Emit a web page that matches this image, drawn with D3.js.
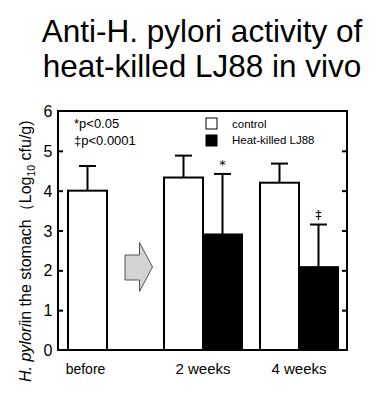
<!DOCTYPE html>
<html><head><meta charset="utf-8">
<script src="https://cdn.jsdelivr.net/npm/d3@7"></script>
<style>
html,body{margin:0;padding:0;background:#fff;}
svg{display:block;}
text{font-family:"Liberation Sans",Arial,sans-serif;fill:#000;}
</style></head>
<body>
<svg id="chart" width="384" height="397"></svg>
<script>
// ---- data ----
const groups = ["before", "2 weeks", "4 weeks"];
const seriesNames = ["control", "Heat-killed LJ88"];
const controlMeans = [4.0, 4.33, 4.2];
const controlSD = [0.62, 0.55, 0.48];
const ljMeans = [null, 2.9, 2.08];
const ljSD = [null, 1.52, 1.07];
const sigMarks = [null, "*", "\u2021"];
const yTicks = [0, 1, 2, 3, 4, 5, 6];
const notes = ["*p<0.05", "\u2021p<0.0001"];
const titleLines = ["Anti-H. pylori activity of", "heat-killed LJ88 in vivo"];

// ---- layout ----
const svg = d3.select("#chart");
const L = 58, R = 347, T = 111, B = 350;
const y = d3.scaleLinear().domain([0, 6]).range([B, T]);
const barW = 39;
const xc = d3.scaleOrdinal().domain(groups).range([87.5, 203, 299]);

// title
svg.append("g").selectAll("text").data(titleLines).join("text")
  .attr("x", 202).attr("y", (d, i) => 42 + i * 35)
  .attr("text-anchor", "middle").style("font-size", "31.5px").text(d => d);

// bars
const bars = [];
groups.forEach((g, i) => {
  const paired = ljMeans[i] != null;
  const cx = xc(g);
  bars.push({x: paired ? cx - barW : cx - barW / 2, v: controlMeans[i], sd: controlSD[i], fill: "#fff"});
  if (paired) bars.push({x: cx, v: ljMeans[i], sd: ljSD[i], fill: "#000", mark: sigMarks[i]});
});

const bg = svg.append("g");
bars.forEach(b => {
  const mx = b.x + barW / 2;
  bg.append("line").attr("x1", mx).attr("x2", mx).attr("y1", y(b.v)).attr("y2", y(b.v + b.sd))
    .attr("stroke", "#000").attr("stroke-width", 2);
  bg.append("line").attr("x1", mx - 8.5).attr("x2", mx + 8.5).attr("y1", y(b.v + b.sd)).attr("y2", y(b.v + b.sd))
    .attr("stroke", "#000").attr("stroke-width", 2);
  if (b.mark) {
    bg.append("text").attr("x", mx).attr("y", y(b.v + b.sd) - (b.mark === "*" ? 5 : 6))
      .attr("text-anchor", "middle")
      .style("font-family", "'DejaVu Sans',sans-serif")
      .style("font-size", b.mark === "*" ? "13px" : "12px").text(b.mark);
  }
});
bg.selectAll("rect.bar").data(bars).join("rect").attr("class", "bar")
  .attr("x", d => d.x).attr("width", barW)
  .attr("y", d => y(d.v)).attr("height", d => y(0) - y(d.v))
  .attr("fill", d => d.fill).attr("stroke", "#000").attr("stroke-width", 2);

// frame
svg.append("rect").attr("x", L).attr("y", T).attr("width", R - L).attr("height", B - T)
  .attr("fill", "none").attr("stroke", "#000").attr("stroke-width", 2);

// axes with inward ticks
const yAxisL = d3.axisRight(y).tickValues(yTicks.slice(1, -1)).tickSize(5).tickFormat("");
svg.append("g").attr("transform", `translate(${L},0)`).call(yAxisL)
  .call(g => g.select(".domain").remove())
  .call(g => g.selectAll("line").attr("stroke-width", 2));
const yAxisR = d3.axisLeft(y).tickValues(yTicks.slice(1, -1)).tickSize(5).tickFormat("");
svg.append("g").attr("transform", `translate(${R},0)`).call(yAxisR)
  .call(g => g.select(".domain").remove())
  .call(g => g.selectAll("line").attr("stroke-width", 2));
svg.append("g").selectAll("text").data(yTicks).join("text")
  .attr("x", 48).attr("y", d => y(d) + 6).attr("text-anchor", "middle")
  .style("font-size", "16px").text(d => d);

// x labels
svg.append("g").selectAll("text").data(groups).join("text")
  .attr("x", d => xc(d) - (d === "before" ? 2 : 0)).attr("y", 374).attr("text-anchor", "middle")
  .style("font-size", d => d === "before" ? "14px" : "15px").text(d => d);

// arrow
const ax0 = 125, ax1 = 139.5, ax2 = 152.5, ay0 = 242.5, ay1 = 255, ay2 = 280, ay3 = 291.5;
svg.append("path")
  .attr("d", `M${ax0},${ay1}L${ax1},${ay1}L${ax1},${ay0}L${ax2},${(ay0 + ay3) / 2}L${ax1},${ay3}L${ax1},${ay2}L${ax0},${ay2}Z`)
  .attr("fill", "#d3d3d3").attr("stroke", "#555").attr("stroke-width", 1);

// notes
svg.append("g").selectAll("text").data(notes).join("text")
  .attr("x", 74).attr("y", (d, i) => 128 + i * 16.5).style("font-size", "13px").text(d => d);

// legend
const lg = svg.append("g");
seriesNames.forEach((s, i) => {
  lg.append("rect").attr("x", 206).attr("y", 118 + i * 17).attr("width", 11).attr("height", 11)
    .attr("fill", i ? "#000" : "#fff").attr("stroke", "#000").attr("stroke-width", 1);
  lg.append("text").attr("x", 232).attr("y", 128 + i * 16).style("font-size", "11.5px").text(s);
});

// y label
const yl = svg.append("text").attr("transform", "translate(31,382) rotate(-90)")
  .style("font-size", "16px");
yl.append("tspan").style("font-style", "italic").text("H. pylori");
yl.append("tspan").text("in the stomach\uFF08Log");
yl.append("tspan").attr("dy", 4).style("font-size", "10.5px").text("10");
yl.append("tspan").attr("dy", -4).text(" cfu/g)");
</script>
</body></html>
